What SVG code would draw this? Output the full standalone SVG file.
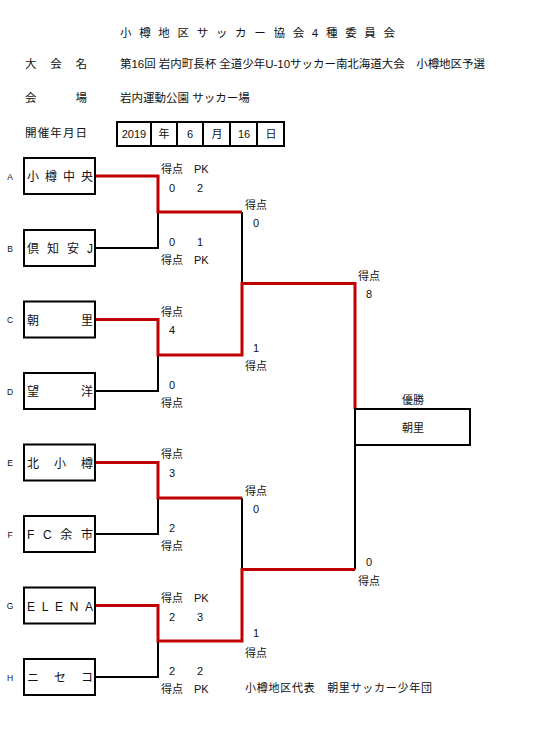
<svg xmlns="http://www.w3.org/2000/svg" width="549" height="732" viewBox="0 0 549 732">
<style>
text{font-family:"Liberation Sans","Noto Sans CJK JP",sans-serif;fill:#111;}
.h{font-size:11.5px;}
.s{font-size:11px;}
.t{font-size:12px;}
.l{font-size:8.5px;text-anchor:middle;}
.c{text-anchor:middle;}
.box{fill:#fff;stroke:#000;stroke-width:2;}
.bk{fill:none;stroke:#000;stroke-width:2;}
.rd{fill:none;stroke:#c00000;stroke-width:3;}
</style>
<rect width="549" height="732" fill="#fff"/>
<g id="header">
<text class="h" x="120" y="37" textLength="275" lengthAdjust="spacing">小樽地区サッカー協会4種委員会</text>
<text class="h" x="25" y="68" textLength="62" lengthAdjust="spacing">大会名</text>
<text class="h" x="120" y="68" textLength="365" lengthAdjust="spacing">第16回 岩内町長杯 全道少年U-10サッカー南北海道大会　小樽地区予選</text>
<text class="h" x="25" y="102" textLength="62" lengthAdjust="spacing">会場</text>
<text class="h" x="120" y="102">岩内運動公園 サッカー場</text>
<text class="h" x="25" y="137" textLength="62" lengthAdjust="spacing">開催年月日</text>
</g>
<g id="date">
<rect x="117" y="122" width="167" height="24" fill="none" stroke="#000" stroke-width="2"/>
<path d="M151 122V146M177 122V146M203 122V146M230 122V146M257 122V146" stroke="#000" stroke-width="2"/>
<text class="s c" x="134" y="138">2019</text>
<text class="s c" x="164" y="138">年</text>
<text class="s c" x="190" y="138">6</text>
<text class="s c" x="217" y="138">月</text>
<text class="s c" x="244" y="138">16</text>
<text class="s c" x="271" y="138">日</text>
</g>
<g id="connectors">
<path class="bk" d="M95 248H158V212"/>
<path class="bk" d="M95 391H158V355"/>
<path class="bk" d="M242 212V283.5"/>
<path class="bk" d="M95 534H158V498"/>
<path class="bk" d="M95 677H158V641"/>
<path class="bk" d="M242 498V569.5"/>
<path class="bk" d="M355 569.5V445"/>
<path class="rd" d="M95 176H158V212H242"/>
<path class="rd" d="M95 319.5H158V355H242V283.5H355V409"/>
<path class="rd" d="M95 462.5H158V498H242"/>
<path class="rd" d="M95 605.5H158V641H242V569.5H355"/>
</g>
<g id="team-A"><text class="l" x="10" y="180">A</text><rect class="box" x="24" y="158" width="71" height="36"/><text class="t" x="27" y="181" textLength="66" lengthAdjust="spacing">小樽中央</text></g>
<g id="team-B"><text class="l" x="10" y="252">B</text><rect class="box" x="24" y="230" width="71" height="36"/><text class="t" x="27" y="253" textLength="66" lengthAdjust="spacing">倶知安J</text></g>
<g id="team-C"><text class="l" x="10" y="323">C</text><rect class="box" x="24" y="301.5" width="71" height="36"/><text class="t" x="27" y="324.5" textLength="66" lengthAdjust="spacing">朝里</text></g>
<g id="team-D"><text class="l" x="10" y="395">D</text><rect class="box" x="24" y="373" width="71" height="36"/><text class="t" x="27" y="396" textLength="66" lengthAdjust="spacing">望洋</text></g>
<g id="team-E"><text class="l" x="10" y="466">E</text><rect class="box" x="24" y="444.5" width="71" height="36"/><text class="t" x="27" y="467.5" textLength="66" lengthAdjust="spacing">北小樽</text></g>
<g id="team-F"><text class="l" x="10" y="538">F</text><rect class="box" x="24" y="516" width="71" height="36"/><text class="t" x="27" y="539" textLength="66" lengthAdjust="spacing">FC余市</text></g>
<g id="team-G"><text class="l" x="10" y="609">G</text><rect class="box" x="24" y="587.5" width="71" height="36"/><text class="t" x="27" y="610.5" textLength="66" lengthAdjust="spacing">ELENA</text></g>
<g id="team-H"><text class="l" x="10" y="681">H</text><rect class="box" x="24" y="659" width="71" height="36"/><text class="t" x="27" y="682" textLength="66" lengthAdjust="spacing">ニセコ</text></g>
<g id="winner">
<text class="s c" x="413" y="404">優勝</text>
<rect class="box" x="355" y="409" width="115" height="36"/>
<text class="s c" x="413" y="432">朝里</text>
</g>
<g id="scores">
<text class="s" x="161" y="173">得点</text><text class="s" x="194" y="173">PK</text>
<text class="s c" x="172" y="192">0</text><text class="s c" x="200" y="192">2</text>
<text class="s c" x="172" y="246">0</text><text class="s c" x="200" y="246">1</text>
<text class="s" x="161" y="264">得点</text><text class="s" x="194" y="264">PK</text>
<text class="s" x="245" y="209">得点</text><text class="s c" x="256" y="227">0</text>
<text class="s" x="161" y="316">得点</text><text class="s c" x="172" y="334">4</text>
<text class="s c" x="172" y="389">0</text><text class="s" x="161" y="407">得点</text>
<text class="s c" x="256" y="352">1</text><text class="s" x="245" y="370">得点</text>
<text class="s" x="358" y="280">得点</text><text class="s c" x="369" y="298">8</text>
<text class="s" x="161" y="458">得点</text><text class="s c" x="172" y="477">3</text>
<text class="s" x="245" y="495">得点</text><text class="s c" x="256" y="513">0</text>
<text class="s c" x="172" y="532">2</text><text class="s" x="161" y="550">得点</text>
<text class="s c" x="369" y="566">0</text><text class="s" x="358" y="585">得点</text>
<text class="s" x="161" y="602">得点</text><text class="s" x="194" y="602">PK</text>
<text class="s c" x="172" y="621">2</text><text class="s c" x="200" y="621">3</text>
<text class="s c" x="256" y="637">1</text><text class="s" x="245" y="657">得点</text>
<text class="s c" x="172" y="675">2</text><text class="s c" x="200" y="675">2</text>
<text class="s" x="161" y="693">得点</text><text class="s" x="194" y="693">PK</text>
</g>
<g id="footer">
<text class="s" x="245" y="692" textLength="187" lengthAdjust="spacing">小樽地区代表　朝里サッカー少年団</text>
</g>
</svg>
